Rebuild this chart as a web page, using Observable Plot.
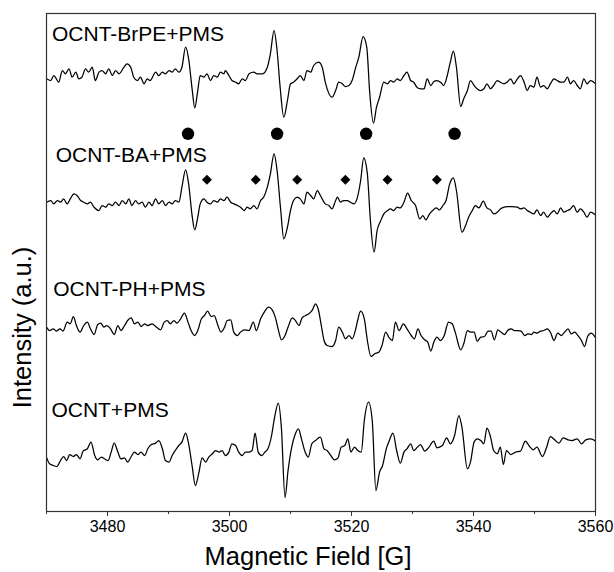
<!DOCTYPE html>
<html><head><meta charset="utf-8">
<script src="https://cdn.jsdelivr.net/npm/d3@7"></script>
<script src="https://cdn.jsdelivr.net/npm/@observablehq/plot@0.6"></script>
<style>body{margin:0;background:#fff} svg{font-family:"Liberation Sans",Arial,sans-serif}</style>
</head><body><div id="chart"></div>
<script>
const traceNames = ["OCNT-BrPE+PMS", "OCNT-BA+PMS", "OCNT-PH+PMS", "OCNT+PMS"];
const traceOffsets = [436, 309.3, 182.7, 52.7];

const specBrPE = [[3470.0,-3.3],[3470.7,-5],[3471.2,0],[3472.0,-6.7],[3472.6,5],[3473.1,1.7],[3473.7,6.7],[3474.2,-1.7],[3474.8,3.3],[3475.3,-3.3],[3475.8,-1.7],[3476.4,6.7],[3476.9,3.3],[3477.5,8.3],[3478.0,-5],[3478.6,3.3],[3479.1,5],[3479.7,1.7],[3480.2,6.7],[3480.8,0],[3481.3,5],[3481.9,1.7],[3482.7,8.3],[3483.2,11.7],[3483.8,8.3],[3484.3,-1.7],[3484.9,-5],[3485.4,-1.7],[3486.0,-8.3],[3486.5,-3.3],[3487.0,-5],[3487.9,3.3],[3488.4,0],[3489.0,3.3],[3489.5,1.7],[3490.1,5],[3490.6,3.3],[3491.1,6.7],[3491.7,3.3],[3492.2,8.3],[3492.8,28.3],[3493.3,16.7],[3493.9,-15],[3494.3,-32.3],[3494.8,-15],[3495.2,0],[3495.8,-1.7],[3496.3,1.7],[3496.9,-5],[3497.4,0],[3498.0,-1.7],[3498.5,3.3],[3499.1,1.7],[3499.3,5],[3499.9,0],[3500.4,-5],[3501.0,-6.7],[3501.5,-8.3],[3502.1,-3.3],[3502.6,-5],[3503.2,1.7],[3504.0,3.3],[3504.5,1.7],[3505.4,1.7],[3506.2,8.3],[3506.7,21.7],[3507.3,45],[3507.8,25],[3508.3,-11.7],[3508.9,-41.7],[3509.5,-25],[3510.0,-8.3],[3510.5,-6.7],[3511.1,-3.3],[3511.6,0],[3512.2,-5],[3512.7,5],[3513.3,3.3],[3513.8,10],[3514.6,13.3],[3515.2,8.3],[3515.7,-6.7],[3516.8,-21.7],[3517.4,-15],[3517.9,-6.7],[3518.5,-8.3],[3519.0,-11],[3519.6,-10],[3520.1,-5],[3520.7,8.3],[3521.2,18.3],[3521.9,39],[3522.5,28.3],[3523.0,-18.3],[3523.6,-47.7],[3524.1,-31.7],[3524.6,-21.7],[3525.3,-6.7],[3525.9,-8.3],[3526.4,-5],[3526.9,-6.7],[3527.5,-3.3],[3528.0,-5],[3528.6,0],[3529.1,3.3],[3529.7,-5],[3530.2,-6.7],[3530.8,-12.3],[3531.3,-13.3],[3531.9,-13.3],[3532.4,-3.3],[3533.0,-10],[3533.5,-6],[3534.0,-5],[3534.6,-6.7],[3535.1,-10],[3535.7,0],[3536.2,13.3],[3536.7,24.3],[3537.2,8.3],[3537.9,-31],[3538.4,-23.3],[3539.0,-15],[3539.5,-5],[3540.1,-10],[3540.6,-13.3],[3541.1,-15],[3541.7,-13.3],[3542.2,-8.3],[3542.8,-13.3],[3543.3,-10],[3543.9,-5],[3544.4,-6.7],[3545.0,-8.3],[3545.5,-6.7],[3546.1,-3.3],[3546.6,-8.3],[3547.2,-3.3],[3547.7,0],[3548.3,-6.7],[3548.8,-15],[3549.3,-10],[3549.9,-11.7],[3550.4,-1.7],[3551.0,-11.7],[3551.5,-10],[3552.1,-13.3],[3552.6,-8.3],[3553.2,-3.3],[3553.7,-5],[3554.3,-6.7],[3554.8,-6.7],[3555.4,-1.7],[3555.9,-8.3],[3556.4,-5],[3557.0,-10],[3557.5,-13.3],[3558.1,-3.3],[3558.6,-8.3],[3559.2,-5],[3560.0,-8.3]];

const specBA = [[3470.0,0],[3470.7,1.7],[3471.2,-1.7],[3471.8,1.7],[3472.3,0],[3472.8,3.3],[3473.4,-1.7],[3473.9,3.3],[3474.5,8.3],[3475.0,6.7],[3475.6,1.7],[3476.1,0],[3476.7,-1.7],[3477.2,0],[3477.8,-5],[3478.6,-8.3],[3479.1,-3.3],[3479.7,-5],[3480.2,-1.7],[3480.8,-3.3],[3481.3,0],[3481.9,-3.3],[3482.4,1.7],[3483.0,-1.7],[3483.5,3.3],[3484.0,-3.3],[3484.6,1.7],[3485.1,-1.7],[3485.7,0],[3486.2,-5],[3486.8,0],[3487.3,-3.3],[3487.9,3.3],[3488.4,-1.7],[3489.0,1.7],[3489.5,-3.3],[3490.1,0],[3490.6,-1.7],[3491.1,1.7],[3491.7,0],[3492.2,15],[3492.8,32.3],[3493.3,18.3],[3493.9,-15],[3494.3,-27.7],[3494.8,-15],[3495.2,-1.7],[3495.8,3.3],[3496.3,0],[3496.9,-1.7],[3497.4,1.7],[3498.0,0],[3498.5,3.3],[3499.1,1.7],[3499.6,5],[3500.2,0],[3500.7,-1.7],[3501.3,-3.3],[3501.8,-5],[3502.4,-8.3],[3502.9,-5],[3503.4,-6.7],[3504.0,-3.3],[3504.5,-6.7],[3505.1,1.7],[3505.6,5],[3506.2,15],[3506.7,28.3],[3507.3,48.3],[3507.8,31.7],[3508.4,-8.3],[3508.9,-36.7],[3509.5,-25],[3510.0,-8.3],[3510.5,1.7],[3511.1,5],[3511.6,3.3],[3512.2,-1.7],[3512.7,10],[3513.3,6.7],[3513.8,3.3],[3514.4,11.7],[3514.9,6.7],[3515.7,-1.7],[3516.3,-3.3],[3516.8,-6.7],[3517.4,1.7],[3517.7,5],[3518.2,0],[3518.7,1.7],[3519.3,1.7],[3519.8,0],[3520.4,-1.7],[3520.9,3.3],[3521.5,21.7],[3522.0,44.3],[3522.6,28.3],[3523.1,-18.3],[3523.7,-50],[3524.2,-28.3],[3524.8,-18.3],[3525.3,-11.7],[3525.9,-8.3],[3526.4,-6.7],[3526.9,-8.3],[3527.5,-5],[3528.0,-5.7],[3528.6,0],[3529.2,9],[3529.8,1.7],[3530.5,-3.3],[3531.2,-16.7],[3531.7,-13.3],[3532.2,-17.7],[3532.8,-11.7],[3533.3,-8.3],[3533.9,-5.7],[3534.4,-7.7],[3535.0,-3.3],[3535.5,1.7],[3536.1,18.3],[3536.7,24.3],[3537.2,11.7],[3538.1,-30],[3538.7,-23.3],[3539.2,-15],[3539.8,-8.3],[3540.3,-3.3],[3540.9,-5.7],[3541.6,1],[3542.2,-5.7],[3542.8,-7.7],[3543.3,-11.7],[3543.9,-10],[3544.4,-6.7],[3545.0,-5],[3545.5,-4.3],[3546.3,-4.3],[3547.2,-5],[3547.7,-6.7],[3548.3,-5.7],[3548.8,-8.3],[3549.3,-10],[3549.9,-11.7],[3550.4,-7.7],[3551.0,-13.3],[3551.5,-10],[3552.1,-15],[3552.6,-11.7],[3553.2,-8.3],[3553.7,-11.7],[3554.3,-5.7],[3554.8,-10],[3555.4,-8.3],[3555.9,-6.7],[3556.4,-3.3],[3557.0,-10],[3557.5,-6.7],[3558.1,-10],[3558.6,-15],[3559.2,-10],[3560.0,-12.7]];

const specPH = [[3470.0,1.7],[3470.5,-1.7],[3471.1,0],[3471.6,-2.3],[3472.2,0],[3472.7,-2.3],[3473.4,6.7],[3473.9,5],[3474.4,12.3],[3474.9,3.3],[3475.5,-3.3],[3476.1,3.3],[3476.7,6.7],[3477.2,0],[3477.8,-5.7],[3478.4,4.3],[3478.9,5.7],[3479.4,1.7],[3479.9,3.3],[3480.5,0],[3481.1,-5.7],[3481.7,3.3],[3482.2,-1.7],[3482.8,3.3],[3483.3,8.3],[3483.9,11],[3484.4,5],[3485.0,6.7],[3485.5,2.3],[3486.1,5],[3486.6,3.3],[3487.3,5],[3488.0,1.7],[3488.7,-1],[3489.3,6.7],[3489.8,8.3],[3490.3,5],[3490.9,8.3],[3491.4,5.7],[3492.0,10],[3492.6,15.7],[3493.2,6.7],[3493.7,-1.7],[3494.3,-6.7],[3494.8,-1.7],[3495.4,10],[3495.9,13.3],[3496.4,17.7],[3497.0,12.3],[3497.5,13.3],[3498.1,3.3],[3498.6,-3.3],[3499.2,1.7],[3499.6,8.3],[3500.2,9],[3500.7,-3.3],[3501.3,-6.7],[3501.8,-3.3],[3502.5,-1],[3503.2,-1.7],[3503.9,6.7],[3504.4,-1.7],[3505.1,10],[3505.7,16.7],[3506.4,21.7],[3507.0,19],[3507.5,11.7],[3508.1,-3.3],[3508.5,-11],[3509.1,-6.7],[3509.6,1.7],[3510.3,11],[3510.8,8.3],[3511.4,3.3],[3511.9,11],[3512.5,13.3],[3513.0,15],[3513.6,19],[3514.1,25],[3514.6,18.3],[3515.0,5],[3515.5,-11.7],[3516.0,-16.7],[3516.8,-17.7],[3517.4,-11.7],[3517.9,1.7],[3518.5,-3.3],[3519.0,-10],[3519.6,-6.7],[3520.1,-10],[3520.7,0],[3521.0,8.3],[3521.5,17.7],[3522.1,10],[3522.6,-11.7],[3523.2,-27.7],[3523.8,-25],[3524.5,-23.3],[3525.0,-16.7],[3525.6,-3.3],[3526.1,-8.3],[3526.7,-11.7],[3527.2,6.7],[3527.8,-1.7],[3528.5,5],[3529.1,0],[3529.8,-6.7],[3530.3,-10],[3530.9,0],[3531.4,-6.7],[3532.0,-11],[3532.5,-13.3],[3533.0,-22.3],[3533.5,-13.3],[3534.0,-8.3],[3534.6,-11.7],[3535.2,-6.7],[3535.9,6.7],[3536.5,5],[3537.0,-3.3],[3537.9,-21],[3538.4,-15],[3539.0,-1.7],[3539.5,-3.3],[3540.1,-3.3],[3540.6,-12.3],[3541.2,-8.3],[3541.8,-7.7],[3542.4,-2.3],[3542.9,-2.3],[3543.4,-11],[3544.0,-1],[3544.5,-3.3],[3545.1,-5.7],[3545.6,-1.7],[3546.2,0],[3546.7,-1.7],[3547.3,-1.7],[3547.8,-2.3],[3548.4,-6.7],[3548.9,-5],[3549.5,-5.7],[3549.9,-3.3],[3550.4,-4.3],[3551.0,-2.3],[3551.5,-1.7],[3552.1,0],[3552.6,-3.3],[3553.2,-11.7],[3553.8,-4.3],[3554.4,-6.7],[3554.8,-4.3],[3555.5,0],[3556.0,-5],[3556.6,-3.3],[3557.1,-6.7],[3557.7,-11.7],[3558.2,-17.7],[3558.7,-7.7],[3559.3,-4.3],[3560.0,-9]];

const specOCNT = [[3470.0,1.7],[3470.5,-5],[3471.1,-6.7],[3471.7,-7.7],[3472.3,-1.7],[3472.8,2.3],[3473.3,-1.7],[3473.8,4.3],[3474.4,2.3],[3474.9,4.3],[3475.5,0],[3476.0,7.7],[3476.7,10],[3477.3,16.7],[3477.9,3.3],[3478.4,-1],[3479.0,1.7],[3479.5,0],[3480.1,-1.7],[3480.6,6.7],[3481.1,15.7],[3481.7,6.7],[3482.2,0],[3482.8,1],[3483.3,-3.3],[3483.9,2.3],[3484.4,6.7],[3485.0,4.3],[3485.5,6.7],[3486.1,3.3],[3486.6,10],[3487.2,14.3],[3487.9,15.7],[3488.4,18.3],[3489.0,10],[3489.5,-1.7],[3490.1,-3.3],[3490.6,3.3],[3491.1,8.3],[3491.7,13.3],[3492.2,16.7],[3492.8,25.7],[3493.3,15],[3493.9,-8.3],[3494.4,-26.7],[3495.0,-13.3],[3495.5,1],[3496.1,-3.3],[3496.6,1.7],[3497.2,5],[3497.7,8.3],[3498.3,6.7],[3498.8,8.3],[3499.3,3.3],[3499.9,6.7],[3500.4,15],[3501.0,13.3],[3501.5,6.7],[3502.1,3.3],[3502.6,6.7],[3503.2,6.7],[3503.7,8.3],[3504.2,25.7],[3504.7,6.7],[3505.3,3.3],[3505.8,6.7],[3506.3,10],[3506.9,23.3],[3507.4,41.7],[3508.0,55.7],[3508.5,31.7],[3509.1,-38.7],[3509.6,-11.7],[3510.2,11.7],[3510.7,23.3],[3511.3,30],[3511.8,20],[3512.4,6.7],[3512.9,1.7],[3513.5,15],[3514.1,18.3],[3514.9,21.7],[3515.5,10],[3516.0,8.3],[3516.6,3.3],[3517.2,-1],[3517.8,1],[3518.3,11.7],[3518.9,13.3],[3519.4,20],[3519.9,6.7],[3520.5,11.7],[3521.0,8.3],[3521.6,6.7],[3522.1,38.3],[3522.8,56.7],[3523.4,38.3],[3524.0,-31.7],[3524.6,-13.3],[3525.1,-6.7],[3525.7,10],[3526.2,18.3],[3526.8,25.7],[3527.4,8.3],[3528.0,-4.3],[3528.6,6.7],[3529.1,10],[3529.7,15],[3530.2,8.3],[3530.8,11.7],[3531.3,14.3],[3532.0,7.7],[3532.5,10],[3533.5,17.7],[3534.0,11],[3534.9,13.3],[3535.6,21],[3536.2,15],[3536.9,23.3],[3537.6,43.3],[3538.1,31.7],[3539.0,-10],[3539.5,-3.3],[3540.1,16.7],[3540.6,20],[3541.2,18.3],[3541.7,15],[3542.2,30.7],[3542.8,21.7],[3543.3,8.3],[3543.9,5],[3544.4,11.7],[3544.9,-5.7],[3545.4,8.3],[3546.1,4.3],[3546.9,6.7],[3547.7,7.7],[3548.5,17.7],[3549.2,12.3],[3549.8,9],[3550.4,11.7],[3551.3,2.3],[3552.0,11.7],[3552.6,22.3],[3553.3,19],[3554.0,15.7],[3554.7,21],[3555.5,19],[3556.2,18.3],[3557.0,20],[3557.7,15],[3558.4,19],[3559.2,20],[3560.0,17.7]];

const spectra = [specBrPE, specBA, specPH, specOCNT];

// peak markers (field positions in G) and their levels (a.u.)
const circleFields = [3493.2, 3507.8, 3522.4, 3536.9];
const circleLevel = 377.7;
const diamondFields = [3496.3, 3504.3, 3511.1, 3519.0, 3525.9, 3534.0];
const diamondLevel = 331.7;

// sample labels: field and level of the text baseline
const labelFields = [3470.9, 3471.5, 3471.1, 3470.8];
const labelLevels = [471, 349.3, 216, 94.3];

const majorTicks = [3480, 3500, 3520, 3540, 3560];
const minorTicks = [3470, 3490, 3510, 3530, 3550];

const rows = [];
spectra.forEach((s, i) => s.forEach(([f, v]) => rows.push({series: traceNames[i], field: f, value: v + traceOffsets[i]})));
const labelRows = traceNames.map((name, i) => ({name, field: labelFields[i], level: labelLevels[i]}));

const chart = Plot.plot({
  width: 614,
  height: 572,
  marginTop: 13,
  marginBottom: 61,
  marginLeft: 46,
  marginRight: 19,
  style: {fontFamily: '"Liberation Sans", Arial, sans-serif', background: "#fff"},
  x: {domain: [3470, 3560], axis: null},
  y: {domain: [0, 498], axis: null},
  marks: [
    Plot.line(rows, {x: "field", y: "value", z: "series", stroke: "#000", strokeWidth: 1.25, curve: "monotone-x"}),
    Plot.dot(circleFields, {x: d => d, y: () => circleLevel, r: 6.2, fill: "#000", stroke: null}),
    Plot.dot(diamondFields, {x: d => d, y: () => diamondLevel, symbol: "diamond2", r: 4.5, fill: "#000", stroke: null}),
    Plot.text(labelRows, {x: "field", y: "level", text: "name", textAnchor: "start", lineAnchor: "bottom", fontSize: 21, fill: "#000"}),
    Plot.frame({stroke: "#333", strokeWidth: 1.2}),
    Plot.axisX(majorTicks, {anchor: "bottom", tickSize: 5, tickPadding: 4, fontSize: 16, stroke: "#333", fill: "#000", label: null, tickFormat: d => String(d)}),
    Plot.axisX(minorTicks, {anchor: "bottom", tickSize: 3, stroke: "#333", label: null, tickFormat: () => ""}),
    Plot.text(["Magnetic Field [G]"], {text: d => d, frameAnchor: "bottom", dx: -13, dy: 53, lineAnchor: "bottom", fontSize: 25.5, fill: "#000"}),
    Plot.text(["Intensity (a.u.)"], {text: d => d, x: () => 3470, y: () => 184, dx: -24, rotate: -90, textAnchor: "middle", lineAnchor: "middle", fontSize: 25.5, fill: "#000"})
  ]
});
document.getElementById("chart").appendChild(chart);
</script>
</body></html>
